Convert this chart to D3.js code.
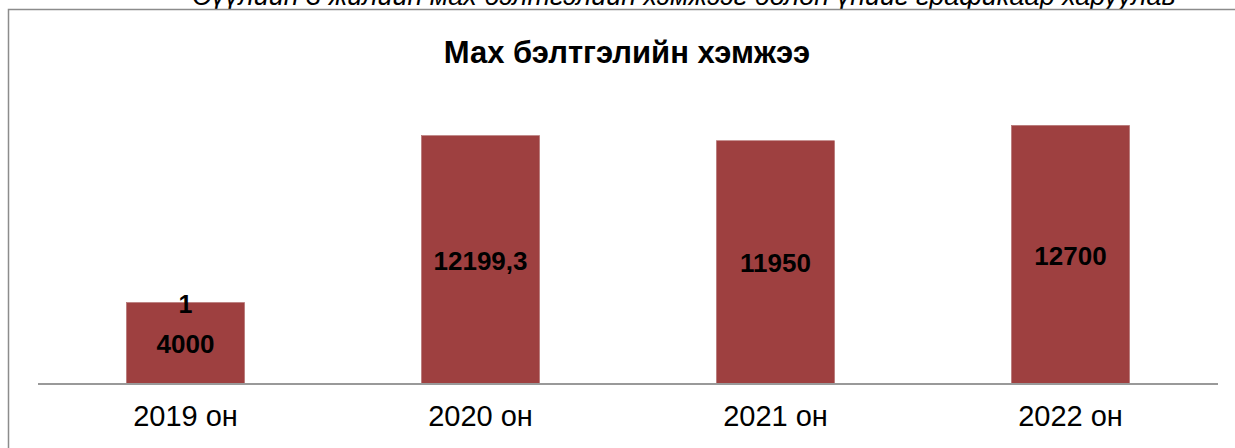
<!DOCTYPE html>
<html>
<head>
<meta charset="utf-8">
<script src="https://cdn.jsdelivr.net/npm/d3@7"></script>
<style>
  html, body { margin: 0; padding: 0; background: #fff; overflow: hidden; }
  svg { display: block; font-family: Arial, "Liberation Sans", sans-serif; }
</style>
</head>
<body>
<svg id="chart" width="1235" height="448"></svg>
<script>
const categories = ["2019 он", "2020 он", "2021 он", "2022 он"];
const values = [4000, 12199.3, 11950, 12700];
const valueLabels = ["4000", "12199,3", "11950", "12700"];
const extraLabels = ["1", "", "", ""];
const title = "Мах бэлтгэлийн хэмжээ";
const caption = "Сүүлийн 3 жилийн мах бэлтгэлийн хэмжээг болон үнийг графикаар харуулав";

const svg = d3.select("#chart");

// caption line above chart (clipped by the page top, as in the reference)
svg.append("text")
  .attr("x", 192).attr("y", 5)
  .attr("font-size", 27).attr("font-style", "italic")
  .attr("fill", "#000")
  .text(caption);

// chart border
svg.append("rect")
  .attr("x", 8.5).attr("y", 9.5)
  .attr("width", 1400).attr("height", 600)
  .attr("fill", "#fff")
  .attr("stroke", "#8c8c8c").attr("stroke-width", 1.5);

const x = d3.scaleBand().domain(categories).range([38, 1218])
  .paddingInner(0.6).paddingOuter(0.3);
const y = d3.scaleLinear().domain([0, 14000]).range([384, 99]);

svg.append("text")
  .attr("x", 627).attr("y", 63)
  .attr("text-anchor", "middle")
  .attr("font-size", 31).attr("font-weight", "bold")
  .text(title);

svg.selectAll("rect.bar").data(values).join("rect")
  .attr("class", "bar")
  .attr("x", (d, i) => x(categories[i]))
  .attr("y", d => y(d))
  .attr("width", x.bandwidth())
  .attr("height", d => y(0) - y(d))
  .attr("fill", "#9e4040")
  .attr("stroke", "#b06a6a").attr("stroke-width", 0.6);

// axis
const axis = svg.append("g").attr("transform", `translate(0,${y(0)})`)
  .call(d3.axisBottom(x).tickSize(0).tickPadding(21));
axis.select(".domain").attr("stroke", "#999").attr("stroke-width", 2)
  .attr("d", "M38,0H1218");
axis.selectAll("text").attr("font-size", 29)
  .attr("font-family", "Arial, 'Liberation Sans', sans-serif").attr("fill", "#000");

svg.selectAll("text.vl").data(values).join("text")
  .attr("class", "vl")
  .attr("x", (d, i) => x(categories[i]) + x.bandwidth() / 2)
  .attr("y", d => (y(d) + y(0)) / 2 + 10)
  .attr("text-anchor", "middle")
  .attr("font-size", 26).attr("font-weight", "bold")
  .text((d, i) => valueLabels[i]);

svg.selectAll("text.xl").data(values).join("text")
  .attr("class", "xl")
  .attr("x", (d, i) => x(categories[i]) + x.bandwidth() / 2)
  .attr("y", d => y(d) + 10)
  .attr("text-anchor", "middle")
  .attr("font-size", 25).attr("font-weight", "bold")
  .text((d, i) => extraLabels[i]);
</script>
</body>
</html>
